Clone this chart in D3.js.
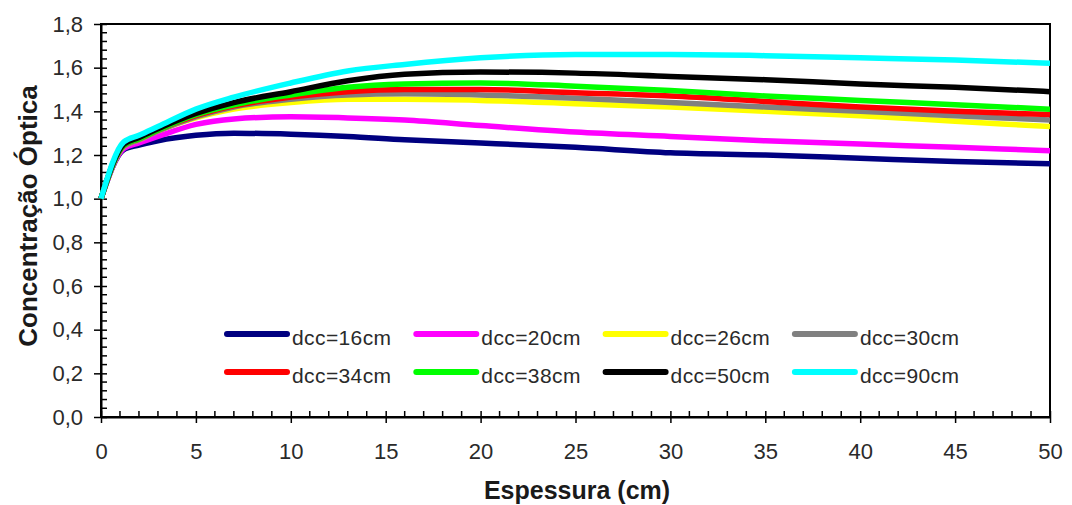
<!DOCTYPE html>
<html>
<head>
<meta charset="utf-8">
<script src="https://cdn.jsdelivr.net/npm/d3@7"></script>
<style>
  body { margin: 0; background: #fff; }
  svg { font-family: "Liberation Sans", Arial, sans-serif; }
</style>
</head>
<body>
<svg id="chart" width="1072" height="505"></svg>
<script>
// espessura (cm)
var espessura = [0, 1.2, 2, 3, 5, 7, 10, 13, 16, 20, 25, 30, 35, 40, 45, 50];

var nomes = ["dcc=16cm", "dcc=20cm", "dcc=26cm", "dcc=30cm", "dcc=34cm", "dcc=38cm", "dcc=50cm", "dcc=90cm"];
var cores = ["#000080", "#ff00ff", "#ffff00", "#808080", "#ff0000", "#00ff00", "#000000", "#00ffff"];

var dcc16 = [1.0, 1.225, 1.245, 1.265, 1.29, 1.30, 1.295, 1.285, 1.27, 1.255, 1.235, 1.21, 1.20, 1.185, 1.17, 1.16];
var dcc20 = [1.0, 1.23, 1.255, 1.285, 1.34, 1.365, 1.375, 1.37, 1.36, 1.335, 1.305, 1.285, 1.265, 1.25, 1.235, 1.22];
var dcc26 = [1.0, 1.24, 1.27, 1.31, 1.37, 1.41, 1.44, 1.455, 1.455, 1.45, 1.435, 1.42, 1.40, 1.38, 1.355, 1.33];
var dcc30 = [1.0, 1.24, 1.27, 1.31, 1.375, 1.42, 1.455, 1.475, 1.48, 1.475, 1.46, 1.44, 1.42, 1.40, 1.38, 1.36];
var dcc34 = [1.0, 1.245, 1.275, 1.315, 1.38, 1.425, 1.465, 1.49, 1.50, 1.50, 1.485, 1.47, 1.445, 1.42, 1.40, 1.385];
var dcc38 = [1.0, 1.245, 1.275, 1.315, 1.385, 1.43, 1.475, 1.51, 1.525, 1.53, 1.515, 1.495, 1.47, 1.45, 1.43, 1.41];
var dcc50 = [1.0, 1.25, 1.28, 1.32, 1.39, 1.44, 1.49, 1.54, 1.57, 1.58, 1.575, 1.56, 1.545, 1.525, 1.51, 1.49];
var dcc90 = [1.0, 1.26, 1.29, 1.33, 1.41, 1.465, 1.53, 1.585, 1.615, 1.645, 1.66, 1.66, 1.655, 1.645, 1.635, 1.62];

var series = [dcc16, dcc20, dcc26, dcc30, dcc34, dcc38, dcc50, dcc90];

var xTicks = [0, 5, 10, 15, 20, 25, 30, 35, 40, 45, 50];
var yTicks = [0, 0.2, 0.4, 0.6, 0.8, 1.0, 1.2, 1.4, 1.6, 1.8];

var margem = { left: 101, right: 22, top: 24, bottom: 88 };
var width = 1072, height = 505;

var svg = d3.select("#chart");

var x = d3.scaleLinear().domain([0, 50]).range([margem.left, width - margem.right]);
var y = d3.scaleLinear().domain([0, 1.8]).range([height - margem.bottom, margem.top]);

var fmt = function (d) { return d3.format(".1f")(d).replace(".", ","); };

// moldura da área do gráfico
svg.append("rect")
    .attr("x", x(0)).attr("y", y(1.8))
    .attr("width", x(50) - x(0)).attr("height", y(0) - y(1.8))
    .attr("fill", "none").attr("stroke", "#000").attr("stroke-width", 2);

// ticks menores (para dentro)
var g = svg.append("g");
d3.range(0, 51, 1).forEach(function (v) {
    if (v % 5 === 0) return;
    g.append("line")
        .attr("x1", x(v)).attr("x2", x(v))
        .attr("y1", y(0)).attr("y2", y(0) - 6)
        .attr("stroke", "#000").attr("stroke-width", 1.5);
});
d3.range(0, 46, 1).forEach(function (i) {
    if (i % 5 === 0) return;
    var v = i * 0.04;
    g.append("line")
        .attr("x1", x(0)).attr("x2", x(0) + 6)
        .attr("y1", y(v)).attr("y2", y(v))
        .attr("stroke", "#000").attr("stroke-width", 1.5);
});

// eixo x
var xAxis = svg.append("g")
    .attr("transform", "translate(0," + y(0) + ")")
    .call(d3.axisBottom(x).tickValues(xTicks).tickSize(6).tickSizeOuter(0).tickPadding(20).tickFormat(d3.format("d")));
xAxis.select(".domain").attr("stroke-width", 2);
xAxis.selectAll(".tick line").attr("stroke-width", 1.5).attr("y1", -6);
xAxis.selectAll("text").style("font-size", "22px").attr("fill", "#2a2a2a");

// eixo y
var yAxis = svg.append("g")
    .attr("transform", "translate(" + x(0) + ",0)")
    .call(d3.axisLeft(y).tickValues(yTicks).tickSize(7).tickSizeOuter(0).tickPadding(11).tickFormat(fmt));
yAxis.select(".domain").attr("stroke-width", 2);
yAxis.selectAll(".tick line").attr("stroke-width", 1.5).attr("x1", 6);
yAxis.selectAll("text").style("font-size", "22px").attr("fill", "#2a2a2a");

// linhas
var linha = d3.line()
    .x(function (d, i) { return x(espessura[i]); })
    .y(function (d) { return y(d); })
    .curve(d3.curveMonotoneX);

svg.append("clipPath").attr("id", "clip")
    .append("rect")
    .attr("x", x(0) - 3).attr("y", y(1.8))
    .attr("width", x(50) - x(0) + 3).attr("height", y(0) - y(1.8));

svg.append("g").attr("clip-path", "url(#clip)")
    .selectAll("path")
    .data(series)
    .enter()
    .append("path")
    .attr("d", linha)
    .attr("fill", "none")
    .attr("stroke", function (d, i) { return cores[i]; })
    .attr("stroke-width", 5.5)
    .attr("stroke-linejoin", "round");

// legenda
var legenda = svg.append("g");
nomes.forEach(function (nome, i) {
    var col = i % 4, row = Math.floor(i / 4);
    var lx = 224 + col * 189.3;
    var ly = 334 + row * 38;
    legenda.append("line")
        .attr("x1", lx + 3).attr("x2", lx + 63)
        .attr("y1", ly).attr("y2", ly)
        .attr("stroke", cores[i]).attr("stroke-width", 6)
        .attr("stroke-linecap", "round");
    legenda.append("text")
        .attr("x", lx + 68).attr("y", ly + 11)
        .style("font-size", "21px").style("letter-spacing", "0.4px").attr("fill", "#2a2a2a")
        .text(nome);
});

// títulos dos eixos
svg.append("text")
    .attr("x", 577).attr("y", 499)
    .attr("text-anchor", "middle")
    .style("font-size", "25px").style("font-weight", "bold").attr("fill", "#1a1a1a")
    .text("Espessura (cm)");

svg.append("text")
    .attr("transform", "translate(37,216) rotate(-90)")
    .attr("text-anchor", "middle")
    .style("font-size", "26px").style("font-weight", "bold").attr("fill", "#1a1a1a")
    .text("Concentração Óptica");
</script>
</body>
</html>
